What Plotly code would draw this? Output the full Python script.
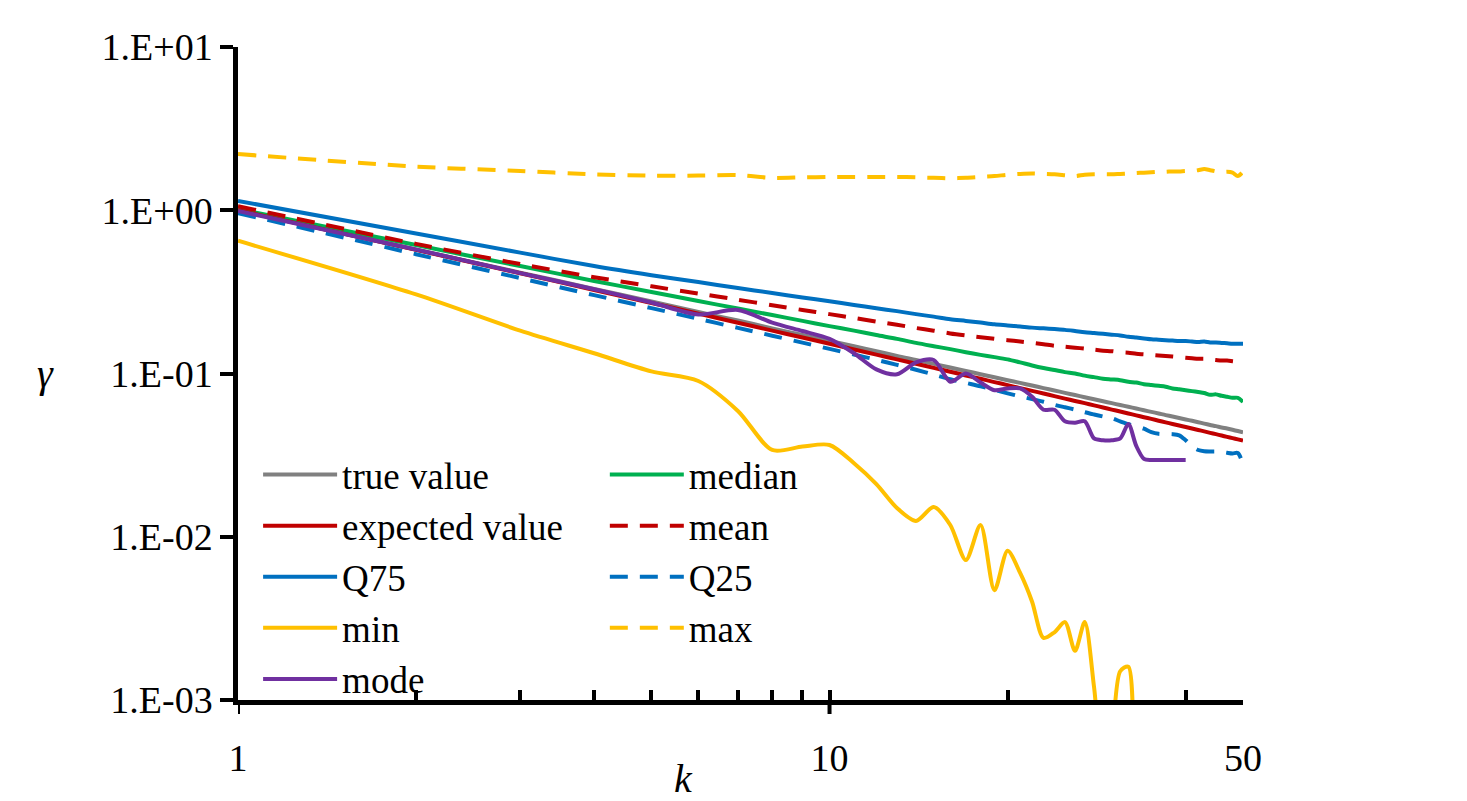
import plotly.graph_objects as go

k = list(range(1, 51))

true_value = [1.000, 0.574, 0.415, 0.330, 0.276, 0.238, 0.211, 0.189, 0.172, 0.158,
              0.147, 0.137, 0.128, 0.121, 0.1146, 0.1088, 0.1036, 0.0990, 0.0948, 0.0910,
              0.0876, 0.0844, 0.0814, 0.0787, 0.0761, 0.0738, 0.0716, 0.0696, 0.0676, 0.0658,
              0.0641, 0.0625, 0.0610, 0.0595, 0.0582, 0.0569, 0.0556, 0.0545, 0.0534, 0.0523,
              0.0513, 0.0503, 0.0493, 0.0484, 0.0476, 0.0467, 0.0460, 0.0452, 0.0444, 0.0437]

median = [1.015, 0.612, 0.455, 0.369, 0.316, 0.278, 0.250, 0.228, 0.210, 0.195,
          0.183, 0.172, 0.163, 0.154, 0.147, 0.141, 0.135, 0.130, 0.126, 0.122,
          0.117, 0.112, 0.108, 0.105, 0.102, 0.100, 0.097, 0.095, 0.093, 0.092,
          0.091, 0.089, 0.088, 0.086, 0.085, 0.084, 0.083, 0.081, 0.080, 0.079,
          0.078, 0.077, 0.076, 0.074, 0.0745, 0.073, 0.072, 0.071, 0.071, 0.067]

expected_value = [1.000, 0.572, 0.411, 0.325, 0.2704, 0.2326, 0.2046, 0.1832, 0.1661, 0.1521,
                  0.1404, 0.1305, 0.1220, 0.1147, 0.1082, 0.1025, 0.0973, 0.0928, 0.0886, 0.0849,
                  0.0814, 0.0783, 0.0754, 0.0727, 0.0702, 0.0679, 0.0658, 0.0638, 0.0619, 0.0601,
                  0.0585, 0.0569, 0.0554, 0.0540, 0.0527, 0.0514, 0.0502, 0.0491, 0.0480, 0.0470,
                  0.0460, 0.0451, 0.0442, 0.0433, 0.0425, 0.0417, 0.0409, 0.0402, 0.0395, 0.0388]

mean = [1.06, 0.622, 0.468, 0.389, 0.342, 0.309, 0.283, 0.262, 0.245, 0.231,
        0.219, 0.208, 0.199, 0.190, 0.183, 0.176, 0.171, 0.167, 0.163, 0.160,
        0.157, 0.154, 0.151, 0.148, 0.146, 0.144, 0.142, 0.140, 0.138, 0.137,
        0.135, 0.134, 0.132, 0.131, 0.130, 0.129, 0.128, 0.127, 0.126, 0.125,
        0.124, 0.123, 0.123, 0.122, 0.121, 0.120, 0.120, 0.119, 0.118, 0.118]

q75 = [1.14, 0.72, 0.55, 0.455, 0.40, 0.363, 0.334, 0.311, 0.292, 0.277,
       0.263, 0.251, 0.241, 0.231, 0.223, 0.215, 0.210, 0.205, 0.200, 0.197,
       0.194, 0.191, 0.189, 0.187, 0.185, 0.182, 0.179, 0.177, 0.175, 0.173,
       0.171, 0.168, 0.166, 0.164, 0.162, 0.161, 0.160, 0.159, 0.158, 0.158,
       0.157, 0.156, 0.157, 0.155, 0.155, 0.154, 0.153, 0.152, 0.152, 0.152]

q25 = [0.960, 0.538, 0.384, 0.302, 0.2515, 0.2163, 0.1903, 0.1704, 0.1545, 0.1415,
       0.1306, 0.1214, 0.1129, 0.1055, 0.0985, 0.0922, 0.0876, 0.0835, 0.0793, 0.0756,
       0.0724, 0.0697, 0.0671, 0.0643, 0.0621, 0.0601, 0.0579, 0.0561, 0.0545, 0.0532,
       0.0509, 0.0489, 0.0476, 0.0459, 0.0437, 0.0427, 0.0426, 0.0425, 0.0418, 0.0390,
       0.0358, 0.0340, 0.0334, 0.0333, 0.0333, 0.0331, 0.0327, 0.0324, 0.0326, 0.0278]

min_v = [0.65, 0.305, 0.183, 0.133, 0.103, 0.090, 0.059, 0.034, 0.0357, 0.0365,
         0.0282, 0.021, 0.0150, 0.0125, 0.0152, 0.0118, 0.0072, 0.0118, 0.0047, 0.0082,
         0.0060, 0.0040, 0.0024, 0.0026, 0.0030, 0.0020, 0.0030, 0.0012, 0.0004, 0.0006,
         0.0015, 0.0016, 0.0003, 0.0004, 0.0004, 0.0004, 0.0004, 0.0005, 0.0007, 0.0008,
         0.0006, 0.0004, 0.0004, 0.0004, 0.0004, 0.0004, 0.0004, 0.0004, 0.0004, 0.0004]

max_v = [2.21, 1.85, 1.74, 1.66, 1.63, 1.63, 1.64, 1.58, 1.59, 1.60,
         1.60, 1.60, 1.60, 1.59, 1.58, 1.57, 1.58, 1.60, 1.62, 1.65,
         1.67, 1.68, 1.67, 1.66, 1.64, 1.62, 1.65, 1.66, 1.66, 1.66,
         1.67, 1.68, 1.69, 1.70, 1.71, 1.72, 1.72, 1.73, 1.73, 1.74,
         1.74, 1.76, 1.79, 1.76, 1.73, 1.71, 1.72, 1.70, 1.62, 1.72]

mode = [0.99, 0.575, 0.412, 0.328, 0.272, 0.230, 0.245, 0.205, 0.182, 0.163,
        0.133, 0.106, 0.099, 0.117, 0.121, 0.089, 0.100, 0.088, 0.079, 0.081,
        0.081, 0.072, 0.060, 0.060, 0.051, 0.050, 0.051, 0.040, 0.039, 0.039,
        0.040, 0.049, 0.036, 0.030, 0.0295, 0.0295, 0.0295, 0.0295, 0.0295, 0.0295,
        None, None, None, None, None, None, None, None, None, None]

x_tickvals = [1, 10, 50]
x_ticktext = ["1", "10", "50"]
x_minor = [2, 3, 4, 5, 6, 7, 8, 9, 20, 40]
y_tickvals = [0.001, 0.01, 0.1, 1, 10]
y_ticktext = ["1.E-03", "1.E-02", "1.E-01", "1.E+00", "1.E+01"]

GRAY = "#808080"
RED = "#C00000"
BLUE = "#0070C0"
GOLD = "#FFC000"
GREEN = "#00B050"
PURPLE = "#7030A0"
FONT = "Liberation Serif"
DASH = "18px,12px"

series = [
    ("true value", true_value, GRAY, "solid", "legend"),
    ("median", median, GREEN, "solid", "legend2"),
    ("expected value", expected_value, RED, "solid", "legend"),
    ("mean", mean, RED, DASH, "legend2"),
    ("Q75", q75, BLUE, "solid", "legend"),
    ("Q25", q25, BLUE, DASH, "legend2"),
    ("min", min_v, GOLD, "solid", "legend"),
    ("max", max_v, GOLD, DASH, "legend2"),
    ("mode", mode, PURPLE, "solid", "legend"),
]

fig = go.Figure()
for name, vals, color, dash, leg in series:
    fig.add_trace(go.Scatter(
        x=k, y=vals, name=name, mode="lines",
        line=dict(color=color, width=4, dash=dash, shape="spline", smoothing=0.8),
        legend=leg, legendgroup=name,
    ))

axis_common = dict(showline=True, linecolor="black", linewidth=4.5, showgrid=False,
                   zeroline=False, tickfont=dict(family=FONT, size=38, color="black"))

legend_common = dict(yanchor="top", xanchor="left", bgcolor="rgba(0,0,0,0)",
                     font=dict(family=FONT, size=37, color="black"),
                     tracegroupgap=0, itemwidth=74)

fig.update_layout(
    width=1467, height=801,
    margin=dict(l=238, r=224, t=47, b=101),
    paper_bgcolor="white", plot_bgcolor="white",
    font=dict(family=FONT, color="black"),
    xaxis=dict(type="log", range=[0, 1.69897], tickmode="array",
               tickvals=x_tickvals, ticktext=x_ticktext,
               ticks="inside", ticklen=10, tickwidth=4, tickcolor="black",
               ticklabelstandoff=21,
               minor=dict(tickmode="array", tickvals=x_minor, ticks="inside",
                          ticklen=10, tickwidth=3.5, tickcolor="black"),
               **axis_common),
    yaxis=dict(type="log", range=[-3, 1], tickmode="array",
               tickvals=y_tickvals, ticktext=y_ticktext,
               ticks="outside", ticklen=13, tickwidth=4, tickcolor="black",
               **axis_common),
    legend=dict(x=0.02, y=0.392, **legend_common),
    legend2=dict(x=0.365, y=0.392, **legend_common),
    showlegend=True,
)

# major ticks crossing below the axis at 1 and 10
for xv in [1, 10]:
    fig.add_shape(type="line", xref="x", yref="paper", x0=xv, x1=xv,
                  ysizemode="pixel", yanchor=0, y0=-14, y1=0,
                  line=dict(color="black", width=4))

fig.add_annotation(text="<i>γ</i>", xref="paper", yref="paper", x=0, y=0.5,
                   xshift=-193, showarrow=False, xanchor="center", yanchor="middle",
                   font=dict(family=FONT, size=40, color="black"))
fig.add_annotation(text="<i>k</i>", xref="paper", yref="paper", x=0.4428, y=0,
                   yshift=-78, showarrow=False, xanchor="center", yanchor="middle",
                   font=dict(family=FONT, size=40, color="black"))

fig.write_html("out.html")
